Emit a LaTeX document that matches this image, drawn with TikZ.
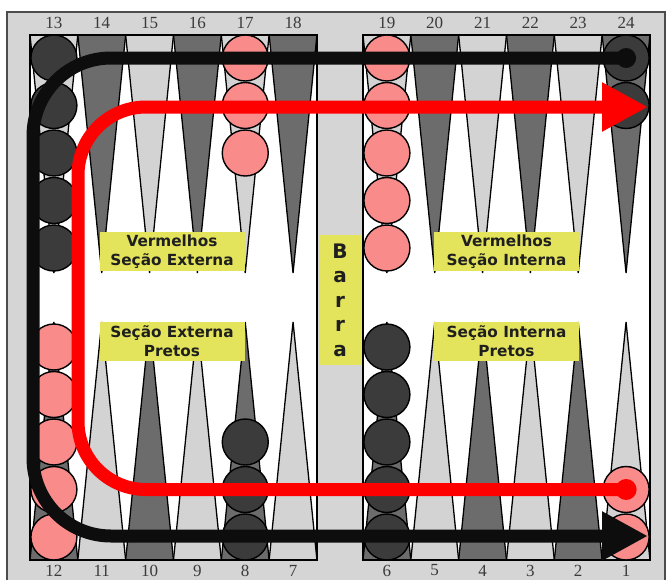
\documentclass[tikz,border=0pt]{standalone}
\usepackage{fontspec}
\setmainfont{Liberation Serif}
\newfontfamily\boxfont{DejaVu Sans}
\usetikzlibrary{arrows.meta}
\definecolor{bgray}{HTML}{D5D5D5}
\definecolor{tlight}{HTML}{D3D3D3}
\definecolor{tdark}{HTML}{6C6C6C}
\definecolor{chkdarkc}{HTML}{3B3B3B}
\definecolor{chkpinkc}{HTML}{F98B8B}
\definecolor{boxyel}{HTML}{E3E35C}
\definecolor{numcol}{HTML}{3A3A3A}
\definecolor{arrred}{HTML}{FF0000}
\definecolor{arrblack}{HTML}{0D0D0D}
\tikzset{
  tri/.style={draw=black,line width=1.3pt,line join=miter},
  board/.style={draw=black,line width=1.8pt},
  chk/.style={circle,draw=black,line width=1.4pt,minimum size=46pt,inner sep=0pt},
  chkdark/.style={chk,fill=chkdarkc},
  chkpink/.style={chk,fill=chkpinkc},
  numlab/.style={text=numcol,font=\fontsize{17}{17}\selectfont,inner sep=0pt},
  secbox/.style={fill=boxyel,minimum width=145pt,minimum height=39pt,inner sep=0pt,align=center,text=black!88,font=\boxfont\bfseries\fontsize{15.3}{19}\selectfont},
  barbox/.style={fill=boxyel,minimum width=42pt,minimum height=130pt,inner sep=0pt,align=center,text=black!88,font=\boxfont\bfseries\fontsize{20}{24.5}\selectfont},
  movearrow/.style={line width=13pt,rounded corners=#1,-{Triangle[length=46pt,width=46pt]}},
}
\begin{document}
\begin{tikzpicture}[x=1pt,y=-1pt]
\useasboundingbox (0,0) rectangle (669,579);
\fill[white] (0,0) rectangle (669,579);
% outer frame
\draw[fill=bgray,draw=black!70,line width=1.2pt] (7,12) rectangle (665,590);
% boards
\fill[white] (30,35) rectangle (317,560);
\fill[white] (363,35) rectangle (650,560);
% triangles and numbers
\foreach \i in {0,...,5}{
  \pgfmathsetmacro{\lx}{53.9+47.83*\i}
  \pgfmathsetmacro{\rx}{386.9+47.83*\i}
  \ifodd\i \def\tc{tdark}\def\bc{tlight}\else \def\tc{tlight}\def\bc{tdark}\fi
  \filldraw[tri,fill=\tc] (\lx-23.9,35) -- (\lx+23.9,35) -- (\lx,273) -- cycle;
  \filldraw[tri,fill=\tc] (\rx-23.9,35) -- (\rx+23.9,35) -- (\rx,273) -- cycle;
  \filldraw[tri,fill=\bc] (\lx-23.9,560) -- (\lx+23.9,560) -- (\lx,322) -- cycle;
  \filldraw[tri,fill=\bc] (\rx-23.9,560) -- (\rx+23.9,560) -- (\rx,322) -- cycle;
  \pgfmathtruncatemacro{\ta}{13+\i}
  \pgfmathtruncatemacro{\tb}{19+\i}
  \pgfmathtruncatemacro{\ba}{12-\i}
  \pgfmathtruncatemacro{\bb}{6-\i}
  \node[numlab] (n\ta) at (\lx,23) {\ta};
  \node[numlab] (n\tb) at (\rx,23) {\tb};
  \node[numlab] (n\ba) at (\lx,570.5) {\ba};
  \node[numlab] (n\bb) at (\rx,570.5) {\bb};
}
\draw[board] (30,35) rectangle (317,560);
\draw[board] (363,35) rectangle (650,560);
% checkers
\foreach \k in {1,...,5}{
  \node[chkdark] (c13-\k) at (53.9,{58+47.5*(\k-1)}) {};
  \node[chkpink] (c19-\k) at (386.9,{58+47.5*(\k-1)}) {};
  \node[chkpink] (c12-\k) at (53.9,{537-47.5*(\k-1)}) {};
  \node[chkdark] (c6-\k) at (386.9,{537-47.5*(\k-1)}) {};
}
\foreach \k in {1,...,3}{
  \node[chkpink] (c17-\k) at (245.25,{58+47.5*(\k-1)}) {};
  \node[chkdark] (c8-\k) at (245.25,{537-47.5*(\k-1)}) {};
}
\foreach \k in {1,2}{
  \node[chkdark] (c24-\k) at (626.1,{58+47.5*(\k-1)}) {};
  \node[chkpink] (c1-\k) at (626.1,{537-47.5*(\k-1)}) {};
}
% section labels
\node[secbox] (vse) at (172,251.5) {Vermelhos\\Seção Externa};
\node[secbox] (sep) at (172,341) {Seção Externa\\Pretos};
\node[secbox] (vsi) at (506.5,251.5) {Vermelhos\\Seção Interna};
\node[secbox] (sip) at (506.5,341) {Seção Interna\\Pretos};
\node[barbox] (barra) at (340,300) {B\\a\\r\\r\\a};
% movement arrows
\coordinate (bk1) at (33,58);
\coordinate (bk2) at (33,536);
\coordinate (bkend) at (648,536);
\coordinate (rd1) at (78,489.5);
\coordinate (rd2) at (78,107);
\coordinate (rdend) at (648,107);
\draw[movearrow=78pt,draw=arrblack] (c24-1.center) -- (bk1) -- (bk2) -- (bkend);
\fill[arrblack] (c24-1.center) circle[radius=10pt];
\draw[movearrow=68pt,draw=arrred] (c1-2.center) -- (rd1) -- (rd2) -- (rdend);
\fill[arrred] (c1-2.center) circle[radius=10.5pt];
\end{tikzpicture}
\end{document}
